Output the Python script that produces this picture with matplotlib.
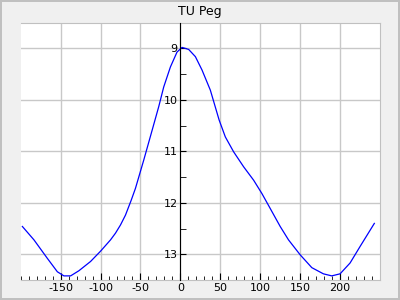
import matplotlib
matplotlib.use("Agg")
import matplotlib.pyplot as plt
from matplotlib.ticker import MultipleLocator

plt.rcParams["axes.unicode_minus"] = False

# light curve of TU Peg
phase = [-197.9, -183.4, -166.6, -154.1, -145.9, -137.5, -127.1, -112.5, -100, -87.5,
         -81.3, -75, -68.8, -61.6, -56.3, -45.9, -35.4, -27.1, -20.9, -12.5,
         -4.2, 2.1, 10.4, 18.8, 27.1, 37.5, 48.5, 56.3, 66.7, 79.2,
         91.7, 102.1, 112.5, 125, 135.4, 150, 164.6, 179.1, 189.6, 200,
         212.5, 225, 242.9]
mag = [12.46, 12.72, 13.08, 13.34, 13.42, 13.42, 13.32, 13.14, 12.94, 12.72,
       12.59, 12.43, 12.24, 11.95, 11.72, 11.17, 10.59, 10.13, 9.75, 9.36,
       9.07, 8.98, 9.02, 9.16, 9.42, 9.81, 10.39, 10.72, 11.01, 11.30,
       11.56, 11.82, 12.11, 12.46, 12.72, 13.01, 13.26, 13.38, 13.42, 13.38,
       13.17, 12.85, 12.40]
title = "TU Peg"

fig = plt.figure(figsize=(4, 3), dpi=100)
fig.patch.set_facecolor("#f0f0f0")
fig.patch.set_edgecolor("#c0c0c0")
fig.patch.set_linewidth(1.5)

ax = fig.add_axes([20.7 / 400, 20 / 300, (380 - 20.7) / 400, (280 - 22.7) / 300])
ax.plot(phase, mag, color="#0000ff", lw=0.9)

ax.set_xlim(-200, 250)
ax.set_ylim(13.5, 8.5)
ax.xaxis.set_major_locator(MultipleLocator(50))
ax.xaxis.set_minor_locator(MultipleLocator(10))
ax.yaxis.set_major_locator(MultipleLocator(1))
ax.yaxis.set_minor_locator(MultipleLocator(0.5))
ax.grid(True, which="major", color="#c8c8c8", lw=1)
ax.set_axisbelow(True)

for s in ["top", "right", "bottom"]:
    ax.spines[s].set_color("#c0c0c0")
ax.spines["left"].set_position(("data", 0))
ax.spines["left"].set_color("black")
ax.spines["left"].set_zorder(3)

ax.tick_params(axis="both", which="both", direction="in", labelsize=8, colors="black", pad=2)
ax.tick_params(axis="x", which="major", length=5)
ax.tick_params(axis="x", which="minor", length=3)
ax.tick_params(axis="y", which="both", length=4)

xt = [t for t in range(-150, 250, 50)]
ax.set_xticks(xt)
ax.set_xticklabels([str(t) for t in xt])
yt = [9, 10, 11, 12, 13]
ax.set_yticks(yt)
ax.set_yticklabels([str(t) for t in yt])

fig.text(0.5, 1 - 15 / 300, title, ha="center", va="baseline", fontsize=9)

fig.savefig("out.png", dpi=100, facecolor=fig.get_facecolor(), edgecolor=fig.get_edgecolor())
